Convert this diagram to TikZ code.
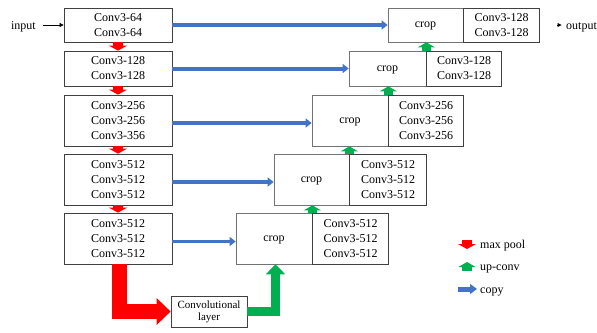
\documentclass[tikz,border=0pt]{standalone}
\usepackage{fontspec}
\setmainfont{Liberation Serif}
\usetikzlibrary{arrows.meta}
\definecolor{copyblue}{HTML}{4472C4}
\definecolor{upgreen}{HTML}{00B050}
\begin{document}
\begin{tikzpicture}[x=1pt,y=-1pt,
  bx/.style={draw=black!75, line width=0.7pt, align=center, inner sep=0pt, font=\fontsize{12}{15}\selectfont},
  lbox/.style={bx, minimum width=108pt},
  cbox/.style={draw=black!55, line width=0.7pt, inner sep=0pt, text height=5.5pt, text depth=0pt, font=\fontsize{12}{15}\selectfont},
  vbox/.style={bx, anchor=west},
  pool/.style={red, line width=10pt, -{Triangle[width=18pt,length=5pt]}},
  upc/.style={upgreen, line width=9.5pt, -{Triangle[width=17pt,length=5pt]}},
  copyarr/.style={copyblue, line width=4pt, -{Triangle[width=9pt,length=6pt]}},
  bigred/.style={red, line width=14.5pt, line join=miter, -{Triangle[width=26pt,length=14pt]}},
  biggreen/.style={upgreen, line width=9.5pt, line join=miter, -{Triangle[width=19pt,length=10pt]}},
  thinarr/.style={black, line width=0.5pt, -{Triangle[width=4pt,length=4pt]}},
  lbl/.style={inner sep=0pt, font=\fontsize{12}{15}\selectfont}
]
\useasboundingbox (0,0) rectangle (597,332);

% left column
\node[lbox, minimum height=34pt] (b1) at (118,25) {Conv3-64\\Conv3-64};
\node[lbox, minimum height=35pt] (b2) at (118,68.5) {Conv3-128\\Conv3-128};
\node[lbox, minimum height=51pt] (b3) at (118,120.5) {Conv3-256\\Conv3-256\\Conv3-356};
\node[lbox, minimum height=51pt] (b4) at (118,179.5) {Conv3-512\\Conv3-512\\Conv3-512};
\node[lbox, minimum height=51pt] (b5) at (118,238.5) {Conv3-512\\Conv3-512\\Conv3-512};

% right column
\node[cbox, minimum width=75pt, minimum height=34pt] (c1) at (425.5,25) {crop};
\node[vbox, minimum width=76pt, minimum height=34pt] (v1) at (c1.east) {Conv3-128\\Conv3-128};
\node[cbox, minimum width=77pt, minimum height=35pt] (c2) at (387.5,68.5) {crop};
\node[vbox, minimum width=75pt, minimum height=35pt] (v2) at (c2.east) {Conv3-128\\Conv3-128};
\node[cbox, minimum width=76pt, minimum height=51pt] (c3) at (350,120.5) {crop};
\node[vbox, minimum width=75pt, minimum height=51pt] (v3) at (c3.east) {Conv3-256\\Conv3-256\\Conv3-256};
\node[cbox, minimum width=75pt, minimum height=51pt] (c4) at (311.5,179.5) {crop};
\node[vbox, minimum width=77pt, minimum height=51pt] (v4) at (c4.east) {Conv3-512\\Conv3-512\\Conv3-512};
\node[cbox, minimum width=76pt, minimum height=51pt] (c5) at (274,238.5) {crop};
\node[vbox, minimum width=76pt, minimum height=51pt] (v5) at (c5.east) {Conv3-512\\Conv3-512\\Conv3-512};

% bottom conv layer
\node[bx, font=\fontsize{11}{12}\selectfont, minimum width=76pt, minimum height=31pt] (cl) at (209,311.5) {Convolutional\\layer};

% input / output
\node[lbl, anchor=base east] (in) at (36,29) {input};
\draw[thinarr] ([xshift=7pt]in.east |- b1.west) -- (b1.west);
\node[lbl, anchor=base west] (out) at (566,29) {output};
\coordinate (outtail) at (558,25);
\draw[thinarr, line width=0pt] (outtail) -- (561.5,25);

% max pool arrows
\draw[pool] (b1.south) -- (b2.north);
\draw[pool] (b2.south) -- (b3.north);
\draw[pool] (b3.south) -- (b4.north);
\draw[pool] (b4.south) -- (b5.north);

% up-conv arrows
\draw[upc] (c2.north east) -- (c2.north east |- c1.south);
\draw[upc] (c3.north east) -- (c3.north east |- c2.south);
\draw[upc] (c4.north east) -- (c4.north east |- c3.south);
\draw[upc] (c5.north east) -- (c5.north east |- c4.south);

% copy arrows
\draw[copyarr] (b1.east) -- (c1.west);
\draw[copyarr] (b2.east) -- (c2.west);
\draw[copyarr] ([yshift=-2.5pt]b3.east) -- ([yshift=-2.5pt]c3.west);
\draw[copyarr] ([yshift=-2.5pt]b4.east) -- ([yshift=-2.5pt]c4.west);
\draw[copyarr, line width=3pt] ([yshift=-3pt]b5.east) -- ([yshift=-3pt]c5.west);

% bottom big arrows
\draw[bigred] ([xshift=1.5pt]b5.south) |- (cl.west);
\draw[biggreen] (cl.east) -| ([xshift=1.5pt]c5.south);

% legend
\coordinate (lr1) at (467,240);
\coordinate (lr2) at (467,249);
\draw[pool] (lr1) -- (lr2);
\node[lbl, anchor=base west] (lmax) at (480,248.5) {max pool};
\coordinate (lg1) at (467,271);
\coordinate (lg2) at (467,262);
\draw[upc] (lg1) -- (lg2);
\node[lbl, anchor=base west] (lup) at (480,270.5) {up-conv};
\coordinate (lb1) at (458,289);
\coordinate (lb2) at (477,289);
\draw[copyarr, line width=5pt, -{Triangle[width=10pt,length=7pt]}] (lb1) -- (lb2);
\node[lbl, anchor=base west] (lcopy) at (480,293) {copy};
\end{tikzpicture}
\end{document}
